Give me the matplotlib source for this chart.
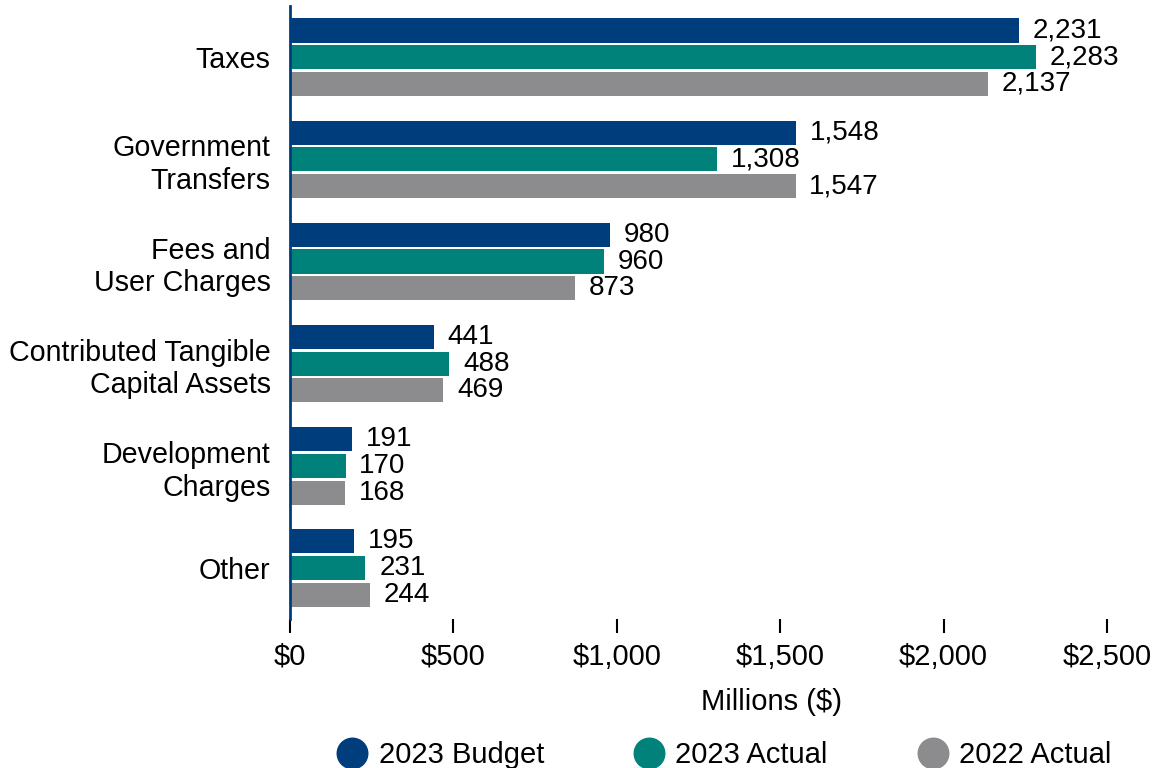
import numpy as np
import matplotlib
matplotlib.use('Agg')
from matplotlib import pyplot as plt
from matplotlib.lines import Line2D

plt.rcParams['font.family'] = ['Liberation Sans', 'DejaVu Sans']

categories = ['Taxes', 'Government\nTransfers', 'Fees and\nUser Charges',
              'Contributed Tangible\nCapital Assets', 'Development\nCharges', 'Other']
budget_2023 = [2231, 1548, 980, 441, 191, 195]
actual_2023 = [2283, 1308, 960, 488, 170, 231]
actual_2022 = [2137, 1547, 873, 469, 168, 244]
series_names = ['2023 Budget', '2023 Actual', '2022 Actual']
colors = ['#003d7d', '#00827a', '#8c8c8e']

x_ticks = [0, 500, 1000, 1500, 2000, 2500]
x_tick_labels = ['$0', '$500', '$1,000', '$1,500', '$2,000', '$2,500']

fig = plt.figure(figsize=(11.52, 7.68), dpi=100)
ax = fig.add_axes([0.2517, 0.194, 0.7092, 0.798])

y = np.arange(len(categories))
bar_h = 0.236
step = 0.262
for i, (vals, color) in enumerate(zip([budget_2023, actual_2023, actual_2022], colors)):
    pos = y + (i - 1) * step
    ax.barh(pos, vals, height=bar_h, color=color)
    for p, v in zip(pos, vals):
        ax.text(v + 42, p, f'{v:,}', va='center', ha='left', fontsize=20)

ax.set_ylim(len(categories) - 0.5, -0.5)
ax.set_xlim(0, 2500)
ax.set_yticks(y)
ax.set_yticklabels(categories, fontsize=20.6, linespacing=1.22)
ax.tick_params(axis='y', length=0, pad=14)
ax.set_xticks(x_ticks)
ax.set_xticklabels(x_tick_labels, fontsize=21)
ax.tick_params(axis='x', length=10, width=1.5, color='black', pad=7)

for side in ['top', 'right', 'bottom']:
    ax.spines[side].set_visible(False)
ax.spines['left'].set_color('#003d7d')
ax.spines['left'].set_linewidth(2)

ax.set_xlabel('Millions ($)', fontsize=21)
ax.xaxis.set_label_coords(0.59, -0.113)

handles = [Line2D([], [], marker='o', linestyle='none', markersize=22,
                  markerfacecolor=c, markeredgecolor=c) for c in colors]
fig.legend(handles, series_names, loc='center', bbox_to_anchor=(0.629, 0.017),
           ncol=3, frameon=False, fontsize=21, handlelength=1.0,
           handletextpad=0.4, columnspacing=3.1)

fig.savefig('out.png', dpi=100)
